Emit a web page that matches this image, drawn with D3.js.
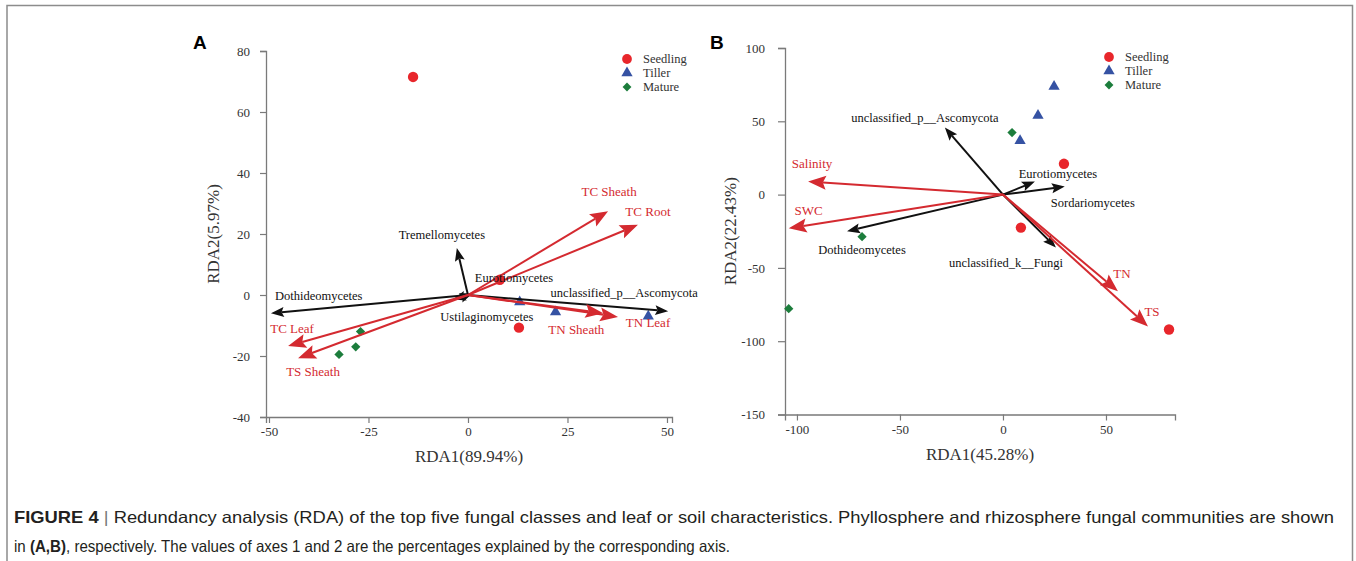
<!DOCTYPE html>
<html>
<head>
<meta charset="utf-8">
<script src="https://cdn.jsdelivr.net/npm/d3@7"></script>
<style>
  html, body { margin: 0; padding: 0; background: #fff; }
  svg { display: block; }
</style>
</head>
<body>
<svg id="fig" width="1356" height="561"></svg>
<script>
'use strict';

// ---- data ----
const groups = ['Seedling', 'Tiller', 'Mature'];

// panel A (phyllosphere)
const sampleGroupA = ['Seedling', 'Seedling', 'Seedling', 'Tiller', 'Tiller', 'Tiller', 'Mature', 'Mature', 'Mature'];
const sampleRda1A = [-13.8, 8, 12.8, 13, 22, 45.3, -27, -28.2, -32.4];
const sampleRda2A = [71.5, 5, -10.7, -2.3, -5.6, -7, -12, -17, -19.5];

const fungiA = ['Dothideomycetes', 'Tremellomycetes', 'Eurotiomycetes', 'Ustilaginomycetes', 'unclassified_p__Ascomycota'];
const fungiRda1A = [-49.5, -2.8, 1.2, -3.8, 50.3];
const fungiRda2A = [-6, 15.4, 0.6, -1.5, -5.3];

const envA = ['TC Sheath', 'TC Root', 'TN Sheath', 'TN Leaf', 'TC Leaf', 'TS Sheath'];
const envRda1A = [35.2, 42.7, 34, 37.7, -45.2, -42.7];
const envRda2A = [27.5, 23, -6, -7.2, -16.7, -20.7];

const ticksXA = [-50, -25, 0, 25, 50];
const ticksYA = [-40, -20, 0, 20, 40, 60, 80];

// panel B (rhizosphere)
const sampleGroupB = ['Seedling', 'Seedling', 'Seedling', 'Tiller', 'Tiller', 'Tiller', 'Mature', 'Mature', 'Mature'];
const sampleRda1B = [29.6, 8.7, 80.6, 24.8, 17, 8.3, 4.4, -68.4, -104];
const sampleRda2B = [21, -22.5, -92, 73.7, 54, 36.8, 42.3, -28.7, -77.8];

const fungiB = ['unclassified_p__Ascomycota', 'Eurotiomycetes', 'Sordariomycetes', 'unclassified_k__Fungi', 'Dothideomycetes'];
const fungiRda1B = [-28.2, 15.5, 30, 25.7, -75.7];
const fungiRda2B = [45.7, 8.9, 5.5, -36, -25];

const envB = ['Salinity', 'SWC', 'TN', 'TS'];
const envRda1B = [-94.6, -104, 55.8, 70.4];
const envRda2B = [8.9, -23, -66, -90];

const ticksXB = [-100, -50, 0, 50];
const ticksYB = [-150, -100, -50, 0, 50, 100];

// ---- styles ----
const RED = '#d42a30';
const DOT = '#e8262b';
const BLUE = '#3552a3';
const GREEN = '#1c7d3c';
const INK = '#111';
const SERIF = '"Liberation Serif", "Times New Roman", serif';

class Biplot {
  constructor(conf) {
    this.conf = conf;
    this.svg = d3.select('#fig');
    this.g = this.svg.append('g').attr('class', 'panel');

    this.x = d3.scaleLinear().domain(conf.xDomain).range(conf.xRange);
    this.y = d3.scaleLinear().domain(conf.yDomain).range(conf.yRange);

    this.drawAxes();
    this.drawSamples();
    this.drawArrows(conf.fungi, INK, { len: 13, wid: 10 }, 'fungi');
    this.drawArrows(conf.env, RED, { len: 18, wid: 14 }, 'env');
    this.drawLabels(conf.fungi, INK, 12.5);
    this.drawLabels(conf.env, RED, 13);
    this.drawLegend();
  }

  drawAxes() {
    const conf = this.conf;
    const g = this.g;
    const fmt = d => String(d);

    const xAxis = g
      .append('g')
      .attr('transform', `translate(0, ${conf.yRange[0]})`)
      .call(
        d3.axisBottom(this.x)
          .tickValues(conf.ticksX)
          .tickFormat(fmt)
          .tickSizeOuter(0)
          .tickSize(6)
          .tickPadding(4)
      );

    const yAxis = g
      .append('g')
      .attr('transform', `translate(${conf.xRange[0]}, 0)`)
      .call(
        d3.axisLeft(this.y)
          .tickValues(conf.ticksY)
          .tickFormat(fmt)
          .tickSizeOuter(0)
          .tickSize(conf.yTick)
          .tickPadding(conf.yPad)
      );

    [xAxis, yAxis].forEach(a => {
      a.select('.domain').attr('stroke', '#7a7a7a').attr('stroke-width', 1.3);
      a.selectAll('.tick line').attr('stroke', '#7a7a7a').attr('stroke-width', 1.2);
      a.selectAll('.tick text')
        .attr('fill', '#333')
        .style('font-family', SERIF)
        .style('font-size', '13px');
    });

    const midX = (conf.xRange[0] + conf.xRange[1]) / 2;
    const midY = (conf.yRange[0] + conf.yRange[1]) / 2;

    g.append('text')
      .attr('x', midX)
      .attr('y', conf.yRange[0] + 45)
      .attr('text-anchor', 'middle')
      .attr('fill', '#333')
      .style('font-family', SERIF)
      .style('font-size', '17px')
      .text(conf.xTitle);

    g.append('text')
      .attr('transform', `translate(${conf.yTitleX}, ${midY}) rotate(-90)`)
      .attr('text-anchor', 'middle')
      .attr('fill', '#333')
      .style('font-family', SERIF)
      .style('font-size', '17px')
      .text(conf.yTitle);

    g.append('text')
      .attr('x', conf.letter.x)
      .attr('y', conf.letter.y)
      .attr('fill', '#000')
      .style('font-family', '"Liberation Sans", Arial, sans-serif')
      .style('font-weight', 'bold')
      .style('font-size', '19px')
      .text(conf.letter.t);
  }

  symbol(group, size) {
    const type = {
      Seedling: d3.symbolCircle,
      Tiller: d3.symbolTriangle,
      Mature: d3.symbolDiamond2,
    }[group];
    return d3.symbol().type(type).size(size)();
  }

  color(group) {
    return { Seedling: DOT, Tiller: BLUE, Mature: GREEN }[group];
  }

  drawSamples() {
    const s = this.conf.samples;
    const data = s.group.map((grp, i) => ({ grp, x: s.x[i], y: s.y[i] }));
    const size = { Seedling: 85, Tiller: 55, Mature: 55 };

    this.g
      .append('g')
      .selectAll('path')
      .data(data)
      .enter()
      .append('path')
      .attr('d', d => this.symbol(d.grp, size[d.grp]))
      .attr('fill', d => this.color(d.grp))
      .attr('transform', d => `translate(${this.x(d.x)}, ${this.y(d.y)})`);
  }

  drawArrows(set, col, head, cls) {
    const x0 = this.x(0);
    const y0 = this.y(0);
    const data = set.names.map((n, i) => ({ n, x: set.x[i], y: set.y[i] }));

    const grp = this.g.append('g').attr('class', cls);

    data.forEach(d => {
      const tx = this.x(d.x);
      const ty = this.y(d.y);
      const dx = tx - x0;
      const dy = ty - y0;
      const L = Math.sqrt(dx * dx + dy * dy) || 1;
      const ux = dx / L;
      const uy = dy / L;
      const bx = tx - ux * head.len;
      const by = ty - uy * head.len;
      const px = -uy * head.wid / 2;
      const py = ux * head.wid / 2;
      const nx = tx - ux * head.len * 0.82;
      const ny = ty - uy * head.len * 0.82;

      grp.append('line')
        .attr('x1', x0)
        .attr('y1', y0)
        .attr('x2', nx)
        .attr('y2', ny)
        .attr('stroke', col)
        .attr('stroke-width', 2);

      grp.append('path')
        .attr('d', `M${tx},${ty}L${bx + px},${by + py}L${nx},${ny}L${bx - px},${by - py}Z`)
        .attr('fill', col);
    });
  }

  drawLabels(set, col, fs) {
    set.names.forEach((n, i) => {
      const off = set.offsets[i];
      this.g.append('text')
        .attr('x', this.x(set.x[i]) + off[0])
        .attr('y', this.y(set.y[i]) + off[1])
        .attr('text-anchor', off[2] || 'middle')
        .attr('fill', col)
        .style('font-family', SERIF)
        .style('font-size', fs + 'px')
        .text(n);
    });
  }

  drawLegend() {
    const lg = this.conf.legend;
    const g = this.g.append('g').attr('transform', `translate(${lg.x}, ${lg.y})`);
    const size = { Seedling: 75, Tiller: 55, Mature: 50 };

    groups.forEach((grp, i) => {
      g.append('path')
        .attr('d', this.symbol(grp, size[grp]))
        .attr('fill', this.color(grp))
        .attr('transform', `translate(0, ${i * 14})`);
      g.append('text')
        .attr('x', 16)
        .attr('y', i * 14 + 4)
        .attr('fill', '#333')
        .style('font-family', SERIF)
        .style('font-size', '12.5px')
        .text(grp);
    });
  }
}

// frame
d3.select('#fig')
  .append('path')
  .attr('d', 'M7,561V5.5H1352.5V561')
  .attr('fill', 'none')
  .attr('stroke', '#8c8c8c')
  .attr('stroke-width', 1.5);

new Biplot({
  xDomain: [-50.75, 51.26],
  xRange: [266, 672],
  yDomain: [-40, 80],
  yRange: [417, 51],
  ticksX: ticksXA,
  ticksY: ticksYA,
  yTick: 6,
  yPad: 10,
  xTitle: 'RDA1(89.94%)',
  yTitle: 'RDA2(5.97%)',
  yTitleX: 219,
  letter: { t: 'A', x: 193, y: 49 },
  legend: { x: 627, y: 59 },
  samples: { group: sampleGroupA, x: sampleRda1A, y: sampleRda2A },
  fungi: {
    names: fungiA,
    x: fungiRda1A,
    y: fungiRda2A,
    offsets: [[4, -13, 'start'], [-15, -9], [2, -11, 'start'], [34, 21], [-44, -14]],
  },
  env: {
    names: envA,
    x: envRda1A,
    y: envRda2A,
    offsets: [[1, -15], [10, -9], [-27, 21], [30, 10], [4, -13], [15, 18]],
  },
});

new Biplot({
  xDomain: [-105.8, 83.5],
  xRange: [785, 1175],
  yDomain: [-150, 100],
  yRange: [414.5, 48],
  ticksX: ticksXB,
  ticksY: ticksYB,
  yTick: 7,
  yPad: 13,
  xTitle: 'RDA1(45.28%)',
  yTitle: 'RDA2(22.43%)',
  yTitleX: 736,
  letter: { t: 'B', x: 710, y: 49 },
  legend: { x: 1109, y: 57 },
  samples: { group: sampleGroupB, x: sampleRda1B, y: sampleRda2B },
  fungi: {
    names: fungiB,
    x: fungiRda1B,
    y: fungiRda2B,
    offsets: [[-20, -6], [23, -4], [28, 20], [-50, 20], [15, 23]],
  },
  env: {
    names: envB,
    x: envRda1B,
    y: envRda2B,
    offsets: [[4, -14], [20, -13], [4, -13], [4, -11]],
  },
});

// caption: each line fitted to its measured extent in the figure
const cap = d3.select('#fig').append('g').attr('class', 'caption')
  .style('font-family', '"Liberation Sans", Arial, sans-serif')
  .style('font-size', '16.5px')
  .attr('fill', '#231f20');

const line1 = cap.append('text').attr('x', 14).attr('y', 523);
line1.append('tspan').style('font-weight', 'bold').text('FIGURE 4');
line1.append('tspan').attr('fill', '#777').text(' | ');
line1.append('tspan').text('Redundancy analysis (RDA) of the top five fungal classes and leaf or soil characteristics. Phyllosphere and rhizosphere fungal communities are shown');

const line2 = cap.append('text').attr('x', 14).attr('y', 552);
line2.append('tspan').text('in ');
line2.append('tspan').style('font-weight', 'bold').text('(A,B)');
line2.append('tspan').text(', respectively. The values of axes 1 and 2 are the percentages explained by the corresponding axis.');

line1.attr('textLength', 1320).attr('lengthAdjust', 'spacingAndGlyphs');
line2.attr('textLength', 716).attr('lengthAdjust', 'spacingAndGlyphs');
</script>
</body>
</html>
